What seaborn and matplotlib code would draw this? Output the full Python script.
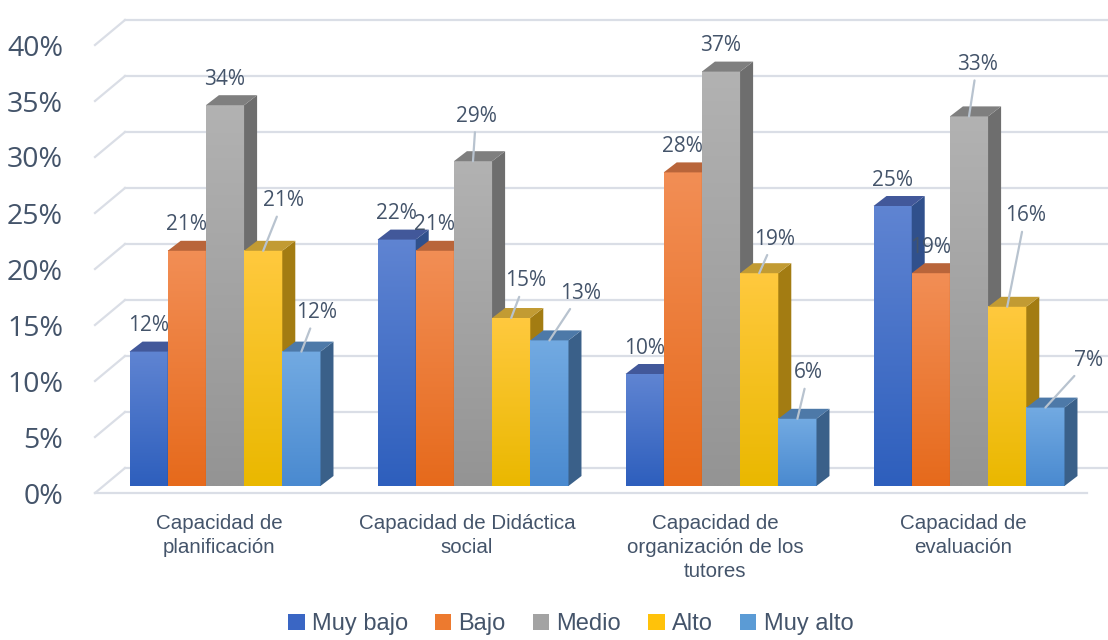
import numpy as np
import pandas as pd
import matplotlib
matplotlib.use('Agg')
import matplotlib.pyplot as plt
import seaborn as sns
from matplotlib.patches import Polygon, Patch
from matplotlib.colors import to_rgb

# data
categories = ['Capacidad de\nplanificación', 'Capacidad de Didáctica\nsocial',
              'Capacidad de\norganización de los\ntutores', 'Capacidad de\nevaluación']
levels = ['Muy bajo', 'Bajo', 'Medio', 'Alto', 'Muy alto']
muy_bajo = [12, 22, 10, 25]
bajo = [21, 21, 28, 19]
medio = [34, 29, 37, 33]
alto = [21, 15, 19, 16]
muy_alto = [12, 13, 6, 7]
y_ticks = [0, 5, 10, 15, 20, 25, 30, 35, 40]

# styling: (front top, front bottom, side, top face)
shades = {
    'Muy bajo': ('#5f84d2', '#2e5fbd', '#30508c', '#42589a'),
    'Bajo': ('#f28e55', '#e66a1c', '#a9551f', '#b9653a'),
    'Medio': ('#b2b2b2', '#949494', '#6e6e6e', '#7f7f7f'),
    'Alto': ('#ffc93e', '#eab800', '#a37c12', '#c29b33'),
    'Muy alto': ('#72aae2', '#4a8ad0', '#3a6089', '#4d79a8'),
}
legend_colors = {'Muy bajo': '#3a66c4', 'Bajo': '#ed7a2f', 'Medio': '#a3a3a3',
                 'Alto': '#ffc20a', 'Muy alto': '#5b9bd5'}
text_color = '#44546a'
grid_color = '#dadee6'

# label offsets in pixels (dx, dy up) from the front-top centre of a bar
default_off = (0, 26)
label_off = {(0, 3): (20, 50), (0, 4): (15, 39), (1, 2): (3, 45), (1, 3): (14, 37),
             (1, 4): (31, 47), (2, 3): (15, 34), (2, 4): (11, 46), (3, 2): (8, 52),
             (3, 3): (18, 91), (3, 4): (43, 47)}

series = [muy_bajo, bajo, medio, alto, muy_alto]
df = pd.DataFrame({
    'categoria': [c for _ in levels for c in categories],
    'nivel': [lv for lv in levels for _ in categories],
    'valor': [v for s in series for v in s],
})

W, H = 1108, 640
fig = plt.figure(figsize=(W / 100, H / 100), dpi=100)
fig.patch.set_facecolor('white')
ax = fig.add_axes([95 / W, 147 / H, 992 / W, 448 / H])

sns.barplot(data=df, x='categoria', y='valor', hue='nivel', hue_order=levels,
            order=categories, palette=legend_colors, width=0.77, saturation=1,
            errorbar=None, legend=False, ax=ax)

xlim = (-0.5, 3.5)
ylim = (0, 40)
ax.set_xlim(*xlim)
ax.set_ylim(*ylim)
ux = (xlim[1] - xlim[0]) / 992.0
uy = (ylim[1] - ylim[0]) / 448.0

# pixel offsets of 3D geometry
bar_shift = (6 * ux, 7 * uy)
depth = (13 * ux, 10 * uy)
back = (30 * ux, 25 * uy)

# back wall grid
for v in y_ticks:
    ax.plot([xlim[0], xlim[0] + back[0]], [v, v + back[1]], color=grid_color,
            lw=1.6, clip_on=False, zorder=1)
    ax.plot([xlim[0] + back[0], xlim[1] + 40 * ux], [v + back[1], v + back[1]],
            color=grid_color, lw=1.6, clip_on=False, zorder=1)
ax.plot([xlim[0], xlim[1]], [0, 0], color=grid_color, lw=1.6, clip_on=False, zorder=1)

# collect bars with their group/level
bars = []
for li, cont in enumerate(ax.containers):
    for gi, bar in enumerate(cont):
        bars.append((bar.get_x(), gi, li, bar))
bars.sort(key=lambda t: t[0])

for rank, (_, gi, li, bar) in enumerate(bars):
    lv = levels[li]
    c_top, c_bot, c_side, c_cap = shades[lv]
    z = 3 + rank * 0.01
    x0 = bar.get_x() + bar_shift[0]
    w = bar.get_width()
    h = bar.get_height()
    y0 = bar_shift[1]
    x1 = x0 + w
    top = y0 + h
    bar.set_x(x0)
    bar.set_y(y0)
    bar.set_zorder(z)
    bar.set_edgecolor('none')
    bar.set_clip_on(False)
    grad = np.linspace(to_rgb(c_top), to_rgb(c_bot), 64).reshape(64, 1, 3)
    ax.imshow(grad, extent=(x0, x1, y0, top), aspect='auto', origin='upper',
              zorder=z + 0.001, interpolation='bilinear', clip_on=False)
    side = Polygon([(x1, y0), (x1 + depth[0], y0 + depth[1]),
                    (x1 + depth[0], top + depth[1]), (x1, top)],
                   closed=True, facecolor=c_side, edgecolor='none',
                   zorder=z + 0.002, clip_on=False)
    cap = Polygon([(x0, top), (x1, top), (x1 + depth[0], top + depth[1]),
                   (x0 + depth[0], top + depth[1])],
                  closed=True, facecolor=c_cap, edgecolor='none',
                  zorder=z + 0.003, clip_on=False)
    ax.add_patch(side)
    ax.add_patch(cap)

    off = label_off.get((gi, li), default_off)
    kw = {}
    if (gi, li) in label_off:
        kw['arrowprops'] = dict(arrowstyle='-', color='#b8c3cf', lw=1.6,
                                shrinkA=2, shrinkB=0)
    ax.annotate(f'{int(round(h))}%', xy=(x0 + w / 2, top), xytext=off,
                textcoords='offset pixels', ha='center', va='center',
                fontsize=15, color=text_color, family=['Open Sans', 'DejaVu Sans'],
                zorder=20, annotation_clip=False, **kw)

ax.set_xlim(*xlim)
ax.set_ylim(*ylim)

ax.set_yticks(y_ticks)
ax.set_yticklabels([f'{t}%' for t in y_ticks], family=['Open Sans', 'DejaVu Sans'],
                   fontsize=20.5, color=text_color)
ax.set_xticks(range(len(categories)))
ax.set_xticklabels(categories, family=['Liberation Sans', 'DejaVu Sans'],
                   fontsize=14.8, color=text_color, linespacing=1.35)
ax.tick_params(axis='y', length=0, pad=23)
ax.tick_params(axis='x', length=0, pad=15)
ax.set_xlabel('')
ax.set_ylabel('')
for sp in ax.spines.values():
    sp.set_visible(False)
ax.set_facecolor('none')

handles = [Patch(facecolor=legend_colors[lv], edgecolor='none', label=lv) for lv in levels]
fig.legend(handles=handles, loc='lower center', bbox_to_anchor=(0.515, -0.026), ncol=5,
           frameon=False, handlelength=0.7, handleheight=0.7, handletextpad=0.3,
           columnspacing=1.15,
           prop={'family': ['Liberation Sans Narrow', 'Liberation Sans', 'DejaVu Sans'],
                 'size': 17},
           labelcolor=text_color)

fig.savefig('out.png', dpi=100)
